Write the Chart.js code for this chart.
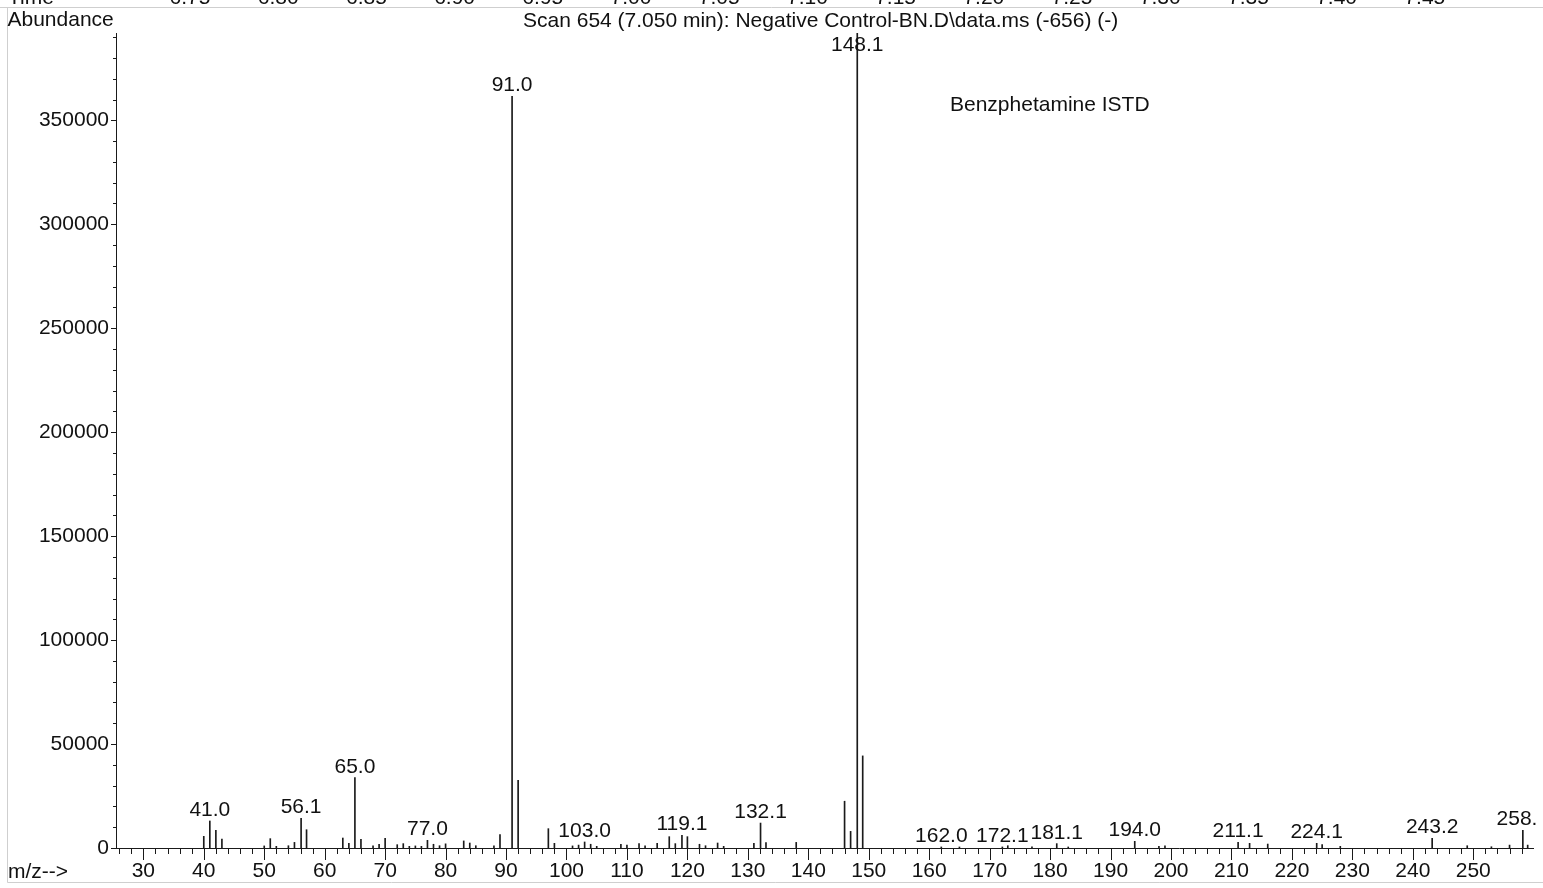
<!DOCTYPE html>
<html>
<head>
<meta charset="utf-8">
<script src="https://cdn.jsdelivr.net/npm/chart.js@4.4.1/dist/chart.umd.min.js"></script>
<style>
  html, body { margin: 0; padding: 0; background: #ffffff; }
  #wrap { width: 1543px; height: 888px; position: relative; }
</style>
</head>
<body>
<div id="wrap"><canvas id="spectrum" width="1543" height="888"></canvas></div>
<script>
// Mass spectrum of scan 654 (7.050 min): m/z and abundance of each ion
const mz = [
  40, 41.0, 42, 43, 50, 51, 52, 54, 55, 56.1, 57, 63, 64, 65.0, 66, 68, 69, 70,
  72, 73, 74, 75, 76, 77.0, 78, 79, 80, 83, 84, 85, 88, 89, 91.0, 92, 97, 98,
  101, 102, 103.0, 104, 105, 109, 110, 112, 113, 115, 117, 118, 119.1, 120,
  122, 123, 125, 126, 131, 132.1, 133, 138, 146, 147, 148.1, 149,
  162.0, 165, 172.1, 173, 177, 181.1, 183, 194.0, 198, 199,
  211.1, 213, 216, 224.1, 225, 228, 243.2, 249, 253, 256, 258.2, 259
];
const abundance = [
  5600, 13000, 8500, 4300, 1000, 4500, 800, 1100, 2700, 14300, 8800, 4800, 2250, 33900, 4200, 1000, 1800, 4650,
  1600, 2100, 800, 1000, 800, 3700, 1800, 1100, 2000, 3400, 2400, 1100, 1100, 6400, 361500, 32600, 9300, 2250,
  1000, 1400, 2900, 1800, 800, 1800, 1400, 2100, 1100, 2250, 5450, 2100, 6100, 5450,
  1800, 1100, 2400, 800, 2250, 12000, 2550, 2700, 22500, 8000, 392000, 44300,
  500, 500, 500, 1100, 600, 2100, 500, 3200, 800, 1100,
  2700, 2250, 1900, 2250, 1600, 800, 4650, 1100, 600, 1400, 8500, 1400
];
// Ions annotated with their m/z
const labeledMz = [41.0, 56.1, 65.0, 77.0, 91.0, 103.0, 119.1, 132.1, 148.1,
  162.0, 172.1, 181.1, 194.0, 211.1, 224.1, 243.2, 258.2];
// Axis tick labels (minor ticks fall between them)
const mzTickLabels = [30, 40, 50, 60, 70, 80, 90, 100, 110, 120, 130, 140, 150,
  160, 170, 180, 190, 200, 210, 220, 230, 240, 250];
const abundanceTickLabels = [0, 50000, 100000, 150000, 200000, 250000, 300000, 350000];
// Retention-time ticks of the chromatogram strip above the spectrum
const timeLabels = ['6.75', '6.80', '6.85', '6.90', '6.95', '7.00', '7.05', '7.10',
  '7.15', '7.20', '7.25', '7.30', '7.35', '7.40', '7.45'];

const FONT = "'Liberation Sans', Arial, sans-serif";
const SIZE = 21;
const MZ_MIN = 25.48, MZ_MAX = 259.88, AB_MAX = 392000;
const MZ_MINOR = 2, AB_MINOR = 10000;

function stepTicks(lo, hi, step) {
  const out = [];
  for (let v = Math.ceil(lo / step) * step; v <= hi; v += step) out.push({ value: v });
  return out;
}

const frameAndText = {
  id: 'frameAndText',
  afterDraw(chart) {
    const ctx = chart.ctx;
    const area = chart.chartArea;
    const xs = chart.scales.x, ys = chart.scales.y;
    ctx.save();

    // panel frame
    ctx.strokeStyle = '#cfcfcf';
    ctx.lineWidth = 1;
    ctx.beginPath();
    ctx.moveTo(0, 7.5); ctx.lineTo(1543, 7.5);
    ctx.moveTo(7.5, 7.5); ctx.lineTo(7.5, 882.5);
    ctx.moveTo(7.5, 882.5); ctx.lineTo(1543, 882.5);
    ctx.stroke();

    // tick marks: long at labelled values, short between
    ctx.strokeStyle = '#1a1a1a';
    ctx.beginPath();
    xs.ticks.forEach(t => {
      const px = Math.round(xs.getPixelForValue(t.value)) + 0.5;
      const len = mzTickLabels.includes(t.value) ? 12 : 6;
      ctx.moveTo(px, area.bottom); ctx.lineTo(px, area.bottom + len);
    });
    ys.ticks.forEach(t => {
      const py = Math.round(ys.getPixelForValue(t.value)) + 0.5;
      const len = abundanceTickLabels.includes(t.value) ? 5 : 3;
      ctx.moveTo(area.left - len, py); ctx.lineTo(area.left, py);
    });
    ctx.stroke();

    ctx.fillStyle = '#111';
    ctx.font = SIZE + 'px ' + FONT;
    ctx.textBaseline = 'alphabetic';

    // cut-off time axis of the chromatogram above
    ctx.textAlign = 'left';
    ctx.fillText('Time', 8, 4);
    ctx.textAlign = 'center';
    timeLabels.forEach((s, i) => ctx.fillText(s, 190 + i * 88.2, 4));

    // headers
    ctx.textAlign = 'left';
    ctx.fillText('Abundance', 7.5, 26);
    ctx.fillText('Scan 654 (7.050 min): Negative Control-BN.D\\data.ms (-656) (-)', 523, 27);
    ctx.fillText('Benzphetamine ISTD', 950, 111);
    ctx.fillText('m/z-->', 8, 878);

    // peak annotations
    ctx.beginPath();
    ctx.rect(area.left, area.top, area.right - area.left + 3, area.bottom - area.top);
    ctx.clip();
    ctx.textAlign = 'center';
    labeledMz.forEach(m => {
      const i = mz.indexOf(m);
      const px = xs.getPixelForValue(m);
      const py = ys.getPixelForValue(abundance[i]);
      const base = Math.max(py - 5, area.top + 18);
      ctx.fillText(m.toFixed(1), px, base);
    });
    ctx.restore();
  }
};

new Chart(document.getElementById('spectrum'), {
  type: 'bar',
  data: {
    datasets: [{
      data: mz.map((m, i) => ({ x: m, y: abundance[i] })),
      backgroundColor: '#1a1a1a',
      borderWidth: 0,
      barThickness: 1
    }]
  },
  options: {
    responsive: false,
    devicePixelRatio: 1,
    animation: false,
    layout: { padding: { top: 33, right: 10, left: 0, bottom: 0 } },
    plugins: { legend: { display: false }, tooltip: { enabled: false }, title: { display: false } },
    scales: {
      x: {
        type: 'linear',
        offset: false,
        min: MZ_MIN,
        max: MZ_MAX,
        grid: { display: false, drawTicks: false },
        border: { display: true, color: '#1a1a1a', width: 1 },
        afterBuildTicks(s) { s.ticks = stepTicks(MZ_MIN, MZ_MAX, MZ_MINOR); },
        afterFit(s) { s.height = 40; },
        ticks: {
          autoSkip: false,
          maxRotation: 0,
          padding: 11,
          color: '#111',
          font: { family: FONT, size: SIZE },
          callback: v => (mzTickLabels.includes(v) ? String(v) : '')
        }
      },
      y: {
        min: 0,
        max: AB_MAX,
        grid: { display: false, drawTicks: false },
        border: { display: true, color: '#1a1a1a', width: 1 },
        afterBuildTicks(s) { s.ticks = stepTicks(0, AB_MAX, AB_MINOR); },
        afterFit(s) { s.width = 116; },
        ticks: {
          autoSkip: false,
          padding: 7,
          color: '#111',
          font: { family: FONT, size: SIZE },
          callback: v => (abundanceTickLabels.includes(v) ? String(v) : '')
        }
      }
    }
  },
  plugins: [frameAndText]
});
</script>
</body>
</html>
